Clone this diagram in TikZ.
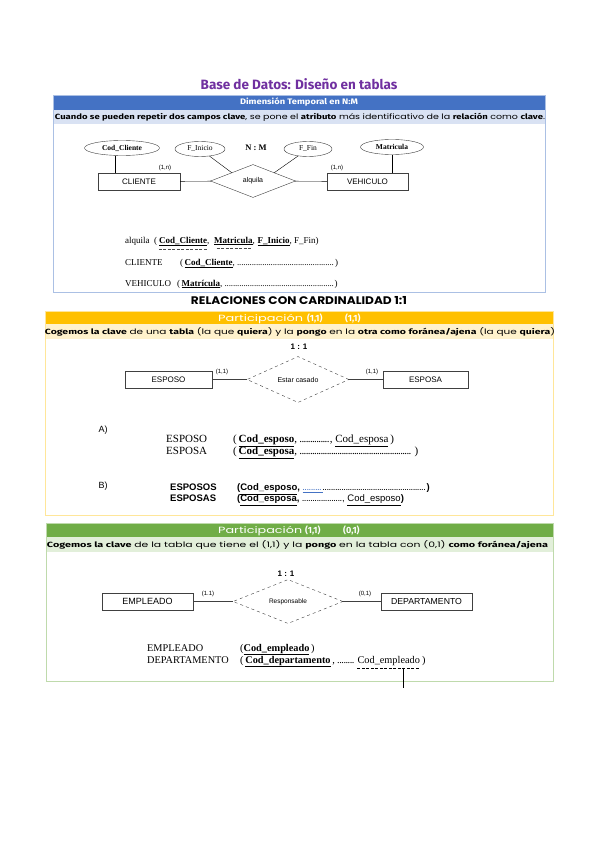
\documentclass[tikz,border=0pt]{standalone}
\usepackage{fontspec}
\usepackage{graphicx}
\setmainfont{Liberation Serif}
\newfontfamily\arialf{Liberation Sans}
\newfontfamily\roundf{Poppins}
\newfontfamily\firaf{Fira Sans}
\usetikzlibrary{shapes.geometric,positioning}
\definecolor{titlepurple}{HTML}{7030A0}
\definecolor{hdblue}{HTML}{4472C4}
\definecolor{rowblue}{HTML}{D9E2F3}
\definecolor{hdorange}{HTML}{FFC000}
\definecolor{roworange}{HTML}{FFF2CC}
\definecolor{hdgreen}{HTML}{70AD47}
\definecolor{rowgreen}{HTML}{E2EFDA}
\newcommand\hwb[1]{{\firaf\bfseries #1}}
\newcommand\dotsw[1]{\hbox to #1{\leaders\hbox to 2.1pt{\hss.\hss}\hfill}}
\newcommand\fitw[2]{\resizebox{#1}{\height}{#2}}
\tikzset{
  ent/.style={draw=black!75, minimum height=17pt, inner sep=0pt, font=\arialf\fontsize{8}{9}\selectfont},
  rel/.style={diamond, draw=black!75, inner sep=0pt, font=\arialf\fontsize{7}{8}\selectfont},
  attr/.style={ellipse, draw=black!75, inner sep=0pt, minimum height=15pt, font=\fontsize{7.5}{8}\selectfont},
  card/.style={inner sep=0pt, font=\arialf\fontsize{6}{7}\selectfont},
  row/.style={inner sep=0pt, anchor=base west, font=\fontsize{9}{10}\selectfont},
  rowa/.style={row, font=\fontsize{11}{12}\selectfont},
  rowb/.style={inner sep=0pt, anchor=base west, font=\arialf\bfseries\fontsize{9.5}{10}\selectfont},
  rowc/.style={row, font=\fontsize{10.3}{11}\selectfont},
  bartext/.style={inner sep=0pt, anchor=base west, text=white, font=\roundf\fontsize{9}{10}\selectfont},
  rowtext/.style={inner sep=0pt, font=\roundf\fontsize{7.5}{8}\selectfont},
  ratio/.style={font=\arialf\bfseries\fontsize{8}{9}\selectfont},
  fkline/.style={black!70, dash pattern=on 3pt off 1.5pt}
}
\begin{document}
\begin{tikzpicture}[x=1pt,y=-1pt]
\useasboundingbox (0,0) rectangle (599,848);
\fill[white] (0,0) rectangle (599,848);

% title
\node[text=titlepurple, font=\firaf\bfseries\fontsize{13.5}{15}\selectfont] (title) at (299,84) {Base de Datos: Diseño en tablas};

% ---- Dimension temporal N:M ----
\fill[hdblue] (53,95) rectangle (545,110);
\fill[rowblue] (53,110) rectangle (545,124);
\draw[hdblue!45] (53,95) rectangle (545,292);
\node[text=white, font=\firaf\bfseries\fontsize{8}{9}\selectfont] (hd1) at (299,102.5) {\fitw{118pt}{Dimensión Temporal en N:M}};
\node[rowtext] (row1) at (300,117) {\fitw{490pt}{\hwb{Cuando se pueden repetir dos campos clave}, se pone el \hwb{atributo} más identificativo de la \hwb{relación} como \hwb{clave}.}};

\node[ent, minimum width=82pt] (cliente) at (139,181.5) {CLIENTE};
\node[rel, minimum width=85pt, minimum height=33pt] (alquila) at (253,181) {alquila};
\node[ent, minimum width=81pt] (vehiculo) at (367.5,181.5) {VEHICULO};
\node[attr, minimum width=75pt] (codcli) at (122,148) {\textbf{Cod\_Cliente}};
\node[attr, minimum width=50pt] (finicio) at (200,149) {F\_Inicio};
\node[attr, minimum width=48pt] (ffin) at (308,149) {F\_Fin};
\node[attr, minimum width=63pt] (matric) at (392,147) {\textbf{Matricula}};
\node[font=\bfseries\fontsize{8.5}{9}\selectfont] (nm) at (256,148) {N : M};
\node[card] (c1) at (165,168) {(1,n)};
\node[card] (c2) at (337,168) {(1,n)};
\draw (cliente) -- (alquila) -- (vehiculo);
\draw ([xshift=-7pt]codcli.south) -- ([xshift=-7pt]codcli.south |- cliente.north);
\draw (matric.south) -- (matric.south |- vehiculo.north);
\draw (finicio) -- (alquila.north west);
\draw (ffin) -- (alquila.north east);

\node[row] (alq0) at (125,243) {alquila\ \ (\,};
\node[row] (alq1) at (alq0.base east) {\underline{\textbf{Cod\_Cliente}},};
\node[row] (alq2) at (alq1.base east) {\ \ \underline{\textbf{Matricula}},};
\node[row] (alq3) at (alq2.base east) {\ \underline{\textbf{F\_Inicio}}, F\_Fin)};
\draw[fkline] ([yshift=-2.5pt]alq1.south west) -- ([xshift=-3pt,yshift=-2.5pt]alq1.south east);
\draw[fkline] ([xshift=7pt,yshift=-2.5pt]alq2.south west) -- ([xshift=-3pt,yshift=-2.5pt]alq2.south east);
\node[row] (cli0) at (125,265) {CLIENTE};
\node[row] (cli1) at (180,265) {(\,\underline{\textbf{Cod\_Cliente}}, \dotsw{98pt})};
\node[row] (veh0) at (125,286) {VEHICULO};
\node[row] (veh1) at (177,286) {(\,\underline{\textbf{Matrícula}}, \dotsw{110pt})};

% ---- Relaciones 1:1 ----
\node[font=\roundf\bfseries\fontsize{11}{12}\selectfont] (sec2) at (299,301) {\fitw{216pt}{RELACIONES CON CARDINALIDAD 1:1}};
\fill[hdorange] (45,311) rectangle (553,324);
\fill[roworange] (45,324) rectangle (553,339);
\draw[hdorange!40] (45,311) rectangle (553,515);
\node[bartext] (hd2a) at (218,321) {\fitw{85pt}{Participación}};
\node[bartext] (hd2b) at (307,321) {\hwb{(1,1)}};
\node[bartext] (hd2c) at (345,321) {\hwb{(1,1)}};
\node[rowtext] (row2) at (300,331.5) {\fitw{510pt}{\hwb{Cogemos la clave} de una \hwb{tabla} (la que \hwb{quiera}) y la \hwb{pongo} en la \hwb{otra como foránea/ajena} (la que \hwb{quiera})}};
\node[ratio] (r2) at (299,347) {1 : 1};

\node[ent, minimum width=87pt] (esposo) at (168.5,379.5) {ESPOSO};
\node[rel, dashed, minimum width=102pt, minimum height=35pt] (casado) at (298,379.5) {Estar casado};
\node[ent, minimum width=85pt] (esposa) at (425.5,379.5) {ESPOSA};
\node[card] (c3) at (222,372) {(1,1)};
\node[card] (c4) at (372,372) {(1,1)};
\draw[black!75, thick] (esposo) -- (casado) -- (esposa);

\node[inner sep=0pt, font=\arialf\fontsize{9}{10}\selectfont] (optA) at (103,430) {A)};
\node[rowa] (a1) at (166,442) {ESPOSO};
\node[rowa] (a1b) at (233,442) {(\,\underline{\textbf{Cod\_esposo}}, \dotsw{30pt}, \underline{Cod\_esposa}\,)};
\node[rowa] (a2) at (166,454) {ESPOSA};
\node[rowa] (a2b) at (233,454) {(\,\underline{\textbf{Cod\_esposa}}, \dotsw{112pt}\ )};
\node[inner sep=0pt, font=\arialf\fontsize{9}{10}\selectfont] (optB) at (103,486) {B)};
\node[rowb] (b1) at (170,490.5) {ESPOSOS};
\node[rowb] (b1b) at (237,490.5) {(\underline{Cod\_esposo}, {\mdseries\color{hdblue}\underline{\dotsw{20pt}}\color{black}\dotsw{104pt}})};
\node[rowb] (b2) at (170,501.5) {ESPOSAS};
\node[rowb] (b2b) at (237,501.5) {(\underline{Cod\_esposa}, {\mdseries\dotsw{40pt}, \underline{Cod\_esposo}})};

% ---- Participacion (1,1) (0,1) ----
\fill[hdgreen] (46,523) rectangle (553,537);
\fill[rowgreen] (46,537) rectangle (553,552);
\draw[hdgreen!45] (46,523) rectangle (553,681);
\node[bartext] (hd3a) at (218,533.5) {\fitw{84pt}{Participación}};
\node[bartext] (hd3b) at (305,533.5) {\hwb{(1,1)}};
\node[bartext] (hd3c) at (343,533.5) {\hwb{(0,1)}};
\node[rowtext] (row3) at (297.5,544.5) {\fitw{501pt}{\hwb{Cogemos la clave} de la tabla que tiene el (1,1) y la \hwb{pongo} en la tabla con (0,1) \hwb{como foránea/ajena}}};
\node[ratio] (r3) at (286,574) {1 : 1};

\node[ent, minimum width=91pt, font=\arialf\fontsize{9}{10}\selectfont] (empleado) at (147.5,601.5) {EMPLEADO};
\node[rel, dashed, minimum width=110pt, minimum height=37pt, font=\arialf\fontsize{6.5}{7}\selectfont] (resp) at (288,601.5) {Responsable};
\node[ent, minimum width=91pt, font=\arialf\fontsize{8.7}{10}\selectfont] (depto) at (426.5,601.5) {DEPARTAMENTO};
\node[card] (c5) at (208,594) {(1.1)};
\node[card] (c6) at (365,594) {(0,1)};
\draw[black!75, thick] (empleado) -- (resp) -- (depto);

\node[rowc] (e1) at (147,651) {EMPLEADO};
\node[rowc] (e1b) at (240,651) {(\underline{\textbf{Cod\_empleado}}\,)};
\node[rowc] (d1) at (147,663) {DEPARTAMENTO};
\node[rowc] (d1b) at (240,663) {(\,\underline{\textbf{Cod\_departamento}}\,, \dotsw{18pt}\,};
\node[rowc] (d1c) at (d1b.base east) {Cod\_empleado};
\node[rowc] (d1d) at (d1c.base east) {\,)};
\draw[fkline, black, thick] ([yshift=-2.5pt]d1c.south west) -- ([yshift=-2.5pt]d1c.south east);
\coordinate (tick) at (403,688);
\draw[thick] ([yshift=-2.5pt]d1c.south -| tick) -- (tick);
\end{tikzpicture}
\end{document}
